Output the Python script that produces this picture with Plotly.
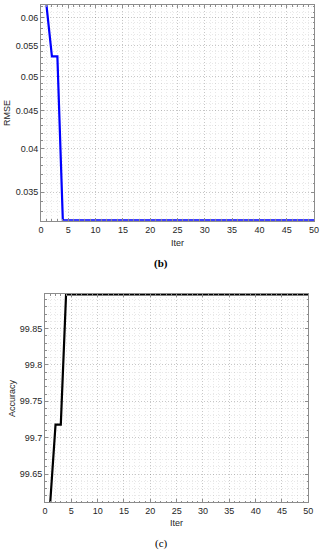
import math
import plotly.graph_objects as go

# ---- data ----
iters = list(range(1, 51))
rmse = [0.0623, 0.0532, 0.0532] + [0.0321] * 47
accuracy = [99.6116, 99.718, 99.718] + [99.897] * 47

x_ticks = [0, 5, 10, 15, 20, 25, 30, 35, 40, 45, 50]
rmse_ticks = [0.035, 0.04, 0.045, 0.05, 0.055, 0.06]
rmse_tick_text = ["0.035", "0.04", "0.045", "0.05", "0.055", "0.06"]
acc_ticks = [99.65, 99.7, 99.75, 99.8, 99.85]
acc_tick_text = ["99.65", "99.7", "99.75", "99.8", "99.85"]
rmse_minor = [round(0.031 + 0.001 * i, 3) for i in range(33)]

W, H = 323, 550
FONT = "Liberation Sans"
TICKC = "#262626"
AXC = "#8c8c8c"
GRIDC = "rgba(0,0,0,0.14)"
MGRIDC = "rgba(0,0,0,0.09)"
DASH = "1px,2px"

fig = go.Figure()
fig.add_trace(go.Scatter(x=iters, y=rmse, mode="lines",
                         line=dict(color="#0000ff", width=2.2),
                         xaxis="x", yaxis="y", showlegend=False))
fig.add_trace(go.Scatter(x=iters, y=accuracy, mode="lines",
                         line=dict(color="#000000", width=2.2),
                         xaxis="x2", yaxis="y2", showlegend=False))

def px_x(a, b):
    return [a / W, b / W]

def px_y(top, bottom):
    return [1 - bottom / H, 1 - top / H]

axis_style = dict(
    ticks="inside", ticklen=3, tickcolor=AXC, showline=True, linecolor=AXC,
    linewidth=1, mirror="ticks", showgrid=True, gridcolor=GRIDC, griddash=DASH,
    gridwidth=1, zeroline=False, automargin=False, ticklabeloverflow="allow",
    tickfont=dict(family=FONT, size=9, color=TICKC),
)
minor_style = dict(showgrid=True, gridcolor=MGRIDC, griddash=DASH,
                   gridwidth=1, ticks="inside", ticklen=1.5, tickcolor=AXC)

common_x = dict(range=[0, 50], tickvals=x_ticks,
                ticktext=[str(t) for t in x_ticks],
                minor=dict(dtick=1, **minor_style), **axis_style)

fig.update_layout(
    template="none",
    width=W, height=H, margin=dict(l=0, r=0, t=0, b=0),
    paper_bgcolor="white", plot_bgcolor="white",
    xaxis=dict(domain=px_x(41, 314), anchor="y", **common_x),
    yaxis=dict(domain=px_y(5, 220.7), anchor="x", type="log",
               range=[math.log10(0.03207), math.log10(0.06233)],
               tickvals=rmse_ticks, ticktext=rmse_tick_text,
               minor=dict(tickvals=rmse_minor, **minor_style), **axis_style),
    xaxis2=dict(domain=px_x(45, 308.3), anchor="y2", **common_x),
    yaxis2=dict(domain=px_y(294, 502), anchor="x2",
                range=[99.6116, 99.8975],
                tickvals=acc_ticks, ticktext=acc_tick_text,
                minor=dict(dtick=0.01, **minor_style), **axis_style),
)

def ann(text, x, y, size=9, family=FONT, angle=0, color=TICKC):
    fig.add_annotation(text=text, x=x / W, y=1 - y / H, xref="paper",
                       yref="paper", showarrow=False, textangle=angle,
                       xanchor="center", yanchor="middle",
                       font=dict(family=family, size=size, color=color))

ann("Iter", 177.5, 243)
ann("RMSE", 7, 113, angle=-90)
ann("<b>(b)</b>", 161, 263, size=11, family="Liberation Serif", color="#000000")
ann("Iter", 176.5, 523)
ann("Accuracy", 12, 398, angle=-90)
ann("(c)", 161, 543, size=11, family="Liberation Serif", color="#000000")

fig.write_html(
    "out.html",
    config={"displayModeBar": False},
    post_script="document.body.style.margin='0';"
                "document.body.style.padding='0';"
                "document.body.style.overflow='hidden';",
)
